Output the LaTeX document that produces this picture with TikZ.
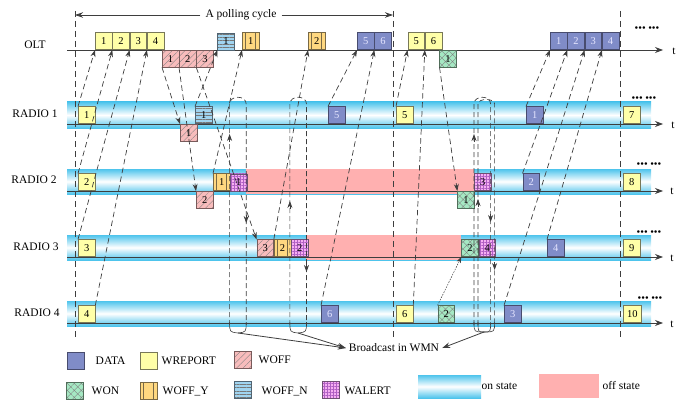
\documentclass[tikz,border=0pt]{standalone}
\usepackage{fontspec}
\setmainfont{Liberation Serif}
\usetikzlibrary{arrows.meta,patterns.meta,calc}

\definecolor{ink}{RGB}{62,62,62}
\definecolor{bandcyan}{RGB}{78,196,236}
\definecolor{offpink}{RGB}{255,176,176}
\definecolor{datafill}{RGB}{128,140,200}
\definecolor{datadraw}{RGB}{72,76,110}
\definecolor{repfill}{RGB}{255,255,168}
\definecolor{repdraw}{RGB}{120,120,88}
\definecolor{wofffill}{RGB}{248,188,188}
\definecolor{woffdraw}{RGB}{120,90,90}
\definecolor{wonfill}{RGB}{165,232,195}
\definecolor{wondraw}{RGB}{80,110,90}
\definecolor{woffyfill}{RGB}{255,216,128}
\definecolor{woffydraw}{RGB}{120,105,70}
\definecolor{woffnfill}{RGB}{160,212,240}
\definecolor{woffndraw}{RGB}{80,100,115}
\definecolor{walertfill}{RGB}{246,175,242}
\definecolor{walertgrid}{RGB}{175,95,195}
\definecolor{walertdraw}{RGB}{110,80,115}

% vertical dashed tracks of one broadcast: up one side, cap, down the other
\newcommand{\pinloop}[3]{%
  \draw[hair] (#1,325) -- (#1,104) .. controls (#1,#3) and (#2,#3) .. (#2,104) -- (#2,325);}
% the two curls that join a broadcast's tracks at the bottom
\newcommand{\pinfoot}[3]{%
  \draw[foot] (#1,322) .. controls (#1,332) .. (#3);
  \draw[foot] (#2,322) .. controls (#2,332) .. (#3);}
% an arrow head sitting on a vertical track
\newcommand{\midtip}[3]{\draw[tipseg] (#1,#2) -- (#1,#3);}

\begin{document}
\begin{tikzpicture}[x=1pt,y=-1pt,
  lbl/.style={inner sep=0pt, font=\fontsize{11.5}{13}\selectfont},
  pkt/.style={line width=0.6pt, minimum width=16.7pt, minimum height=17pt,
    inner sep=0pt, font=\fontsize{10.5}{12}\selectfont},
  data/.style={pkt, draw=datadraw, fill=datafill, text=white!90!blue},
  wrep/.style={pkt, draw=repdraw, fill=repfill},
  woff/.style={pkt, draw=woffdraw, preaction={fill=wofffill},
    pattern={Lines[angle=45,distance=4.5pt,line width=0.35pt]}, pattern color=gray},
  won/.style={pkt, draw=wondraw, preaction={fill=wonfill},
    pattern={Hatch[angle=45,distance=5pt,line width=0.35pt]}, pattern color=gray},
  woffn/.style={pkt, draw=woffndraw, preaction={fill=woffnfill},
    pattern={Lines[angle=0,distance=3.4pt,line width=0.35pt]}, pattern color=ink!70},
  walert/.style={pkt, draw=walertdraw, preaction={fill=walertfill},
    pattern={Hatch[angle=0,distance=3pt,line width=0.3pt]}, pattern color=walertgrid},
  woffy/.style={pkt, draw=woffydraw, fill=woffyfill, path picture={
    \draw[woffydraw, line width=0.5pt]
      ($(path picture bounding box.south west)!0.2!(path picture bounding box.south east)$) --
      ($(path picture bounding box.north west)!0.2!(path picture bounding box.north east)$)
      ($(path picture bounding box.south west)!0.8!(path picture bounding box.south east)$) --
      ($(path picture bounding box.north west)!0.8!(path picture bounding box.north east)$);}},
  up/.style={anchor=south west},
  dn/.style={anchor=north west},
  axisline/.style={ink, line width=0.8pt, -{Stealth[length=8pt,width=6pt]}},
  cyc/.style={ink, line width=0.7pt, dash pattern=on 6pt off 4pt},
  span/.style={ink, line width=0.8pt, -{Stealth[length=8pt,width=5.5pt]}},
  conn/.style={ink, line width=0.7pt, dash pattern=on 5.5pt off 3.5pt, -{Stealth[length=7pt,width=5pt]}},
  dotconn/.style={ink, line width=0.5pt, dash pattern=on 1.6pt off 1.2pt, -{Stealth[length=6pt,width=4.5pt]}},
  hair/.style={ink, line width=0.65pt, dash pattern=on 5pt off 3pt},
  foot/.style={ink, line width=0.6pt},
  tipseg/.style={ink, line width=0.7pt, -{Stealth[length=7pt,width=5pt]}},
  bcast/.style={ink, line width=0.8pt, -{Stealth[length=8pt,width=5.5pt]}},
  dotsnode/.style={inner sep=0pt, font=\fontsize{10.5}{11}\selectfont}
]
\useasboundingbox (0,0) rectangle (684,401);

% ---------- radio bands and their off intervals ----------
\foreach \yt/\yb in {102/128,169/194,235/260,301/326}
  \shade[top color=bandcyan, bottom color=bandcyan, middle color=white] (67,\yt) rectangle (651,\yb);
\fill[offpink] (246,169) rectangle (474,194);
\fill[offpink] (306,235) rectangle (461,260);

% ---------- time axes ----------
\foreach \y in {50,124,191,257,323}
  \draw[axisline] (67,\y) -- (663,\y);
\node[lbl] (t0) at (674,51) {t};
\node[lbl] (t1) at (673,125) {t};
\node[lbl] (t2) at (672,191) {t};
\node[lbl] (t3) at (672,258) {t};
\node[lbl] (t4) at (672,324) {t};

\node[lbl] (lolt) at (35,45) {OLT};
\node[lbl] (lr1) at (35,114) {RADIO 1};
\node[lbl] (lr2) at (34,180) {RADIO 2};
\node[lbl] (lr3) at (36,247) {RADIO 3};
\node[lbl] (lr4) at (37,313) {RADIO 4};

% ---------- polling cycle ----------
\draw[cyc] (75,11) -- (75,337);
\draw[cyc] (393,11) -- (393,337);
\draw[cyc] (620,11) -- (620,337);
\node[lbl, inner xsep=5pt] (pc) at (241,15) {A polling cycle};
\coordinate (pcl) at (75,15);
\coordinate (pcr) at (393,15);
\draw[span] (pc.west) -- (pcl);
\draw[span] (pc.east) -- (pcr);

\node[dotsnode] (d0) at (647,29) {\textbullet\textbullet\textbullet\ \textbullet\textbullet\textbullet};
\node[dotsnode] (d1) at (644,99) {\textbullet\textbullet\textbullet\ \textbullet\textbullet\textbullet};
\node[dotsnode] (d2) at (649,165) {\textbullet\textbullet\textbullet\ \textbullet\textbullet\textbullet};
\node[dotsnode] (d3) at (649,233) {\textbullet\textbullet\textbullet\ \textbullet\textbullet\textbullet};
\node[dotsnode] (d4) at (650,299) {\textbullet\textbullet\textbullet\ \textbullet\textbullet\textbullet};

% ---------- OLT ----------
\node[wrep, up] (o1) at (95,50) {1};
\node[wrep, up] (o2) at (o1.south east) {2};
\node[wrep, up] (o3) at (o2.south east) {3};
\node[wrep, up] (o4) at (o3.south east) {4};
\node[woff, dn] (ow1) at (162,50) {1};
\node[woff, dn] (ow2) at (ow1.north east) {2};
\node[woff, dn] (ow3) at (ow2.north east) {3};
\node[woffn, up] (on1) at (217.5,50) {1};
\node[woffy, up] (oy1) at (242,50) {1};
\node[woffy, up] (oy2) at (308,50) {2};
\node[data, up] (od5) at (357,50) {5};
\node[data, up] (od6) at (od5.south east) {6};
\node[wrep, up] (or5) at (407.5,50) {5};
\node[wrep, up] (or6) at (or5.south east) {6};
\node[won, dn] (oon1) at (439.5,50) {1};
\node[data, up] (od1) at (550,50) {1};
\node[data, up] (od2) at (od1.south east) {2};
\node[data, up] (od3) at (od2.south east) {3};
\node[data, up] (od4) at (od3.south east) {4};

% ---------- RADIO 1 ----------
\node[wrep, up] (r1y) at (78,124) {1};
\node[woff, dn] (r1w) at (180,124) {1};
\node[woffn, up] (r1n) at (195,124) {1};
\node[data, up] (r1d5) at (328,124) {5};
\node[wrep, up] (r1y5) at (396,124) {5};
\node[data, up] (r1d1) at (526,124) {1};
\node[wrep, up] (r1y7) at (623,124) {7};

% ---------- RADIO 2 ----------
\node[wrep, up] (r2y) at (78,191) {2};
\node[woff, dn] (r2w) at (196,191) {2};
\node[woffy, up] (r2fy) at (213,191) {1};
\node[walert, up] (r2a1) at (r2fy.south east) {1};
\node[won, dn] (r2on) at (457.3,191) {1};
\node[walert, up] (r2a3) at (474,191) {3};
\node[data, up] (r2d2) at (522.5,191) {2};
\node[wrep, up] (r2y8) at (623,191) {8};

% ---------- RADIO 3 ----------
\node[wrep, up] (r3y) at (78,257) {3};
\node[woff, up] (r3w) at (256.5,257) {3};
\node[woffy, up] (r3fy) at (r3w.south east) {2};
\node[walert, up] (r3a2) at (r3fy.south east) {2};
\node[won, up] (r3on) at (461.3,257) {2};
\node[walert, up] (r3a4) at (r3on.south east) {4};
\node[data, up] (r3d4) at (547,257) {4};
\node[wrep, up] (r3y9) at (623,257) {9};

% ---------- RADIO 4 ----------
\node[wrep, up] (r4y) at (78,323) {4};
\node[data, up] (r4d6) at (321,323) {6};
\node[wrep, up] (r4y6) at (396,323) {6};
\node[won, up] (r4on) at (437.5,323) {2};
\node[data, up] (r4d3) at (504,323) {3};
\node[wrep, up, minimum width=18pt] (r4y10) at (623,323) {10};

% ---------- reports and data sent up to the OLT ----------
\draw[conn] (r1y.north west) -- (o1.south west);
\draw[conn] (r2y.north west) -- (o2.south west);
\draw[conn] (r3y.north west) -- (o3.south west);
\draw[conn] (r4y.north east) -- (o4.south west);
\draw[conn] (r1n.north west) -- (on1.south west);
\draw[conn] (r2fy.north west) -- (oy1.south west);
\draw[conn] (r3fy.north west) -- (oy2.south west);
\draw[conn] (r1d5.north west) -- (od5.south west);
\draw[conn] (r4d6.north west) -- (od6.south west);
\draw[conn] (r1y5.north west) -- (or5.south west);
\draw[conn] (r4y6.north east) -- (or6.south west);
\draw[conn] (r1d1.north west) -- (od1.south west);
\draw[conn] (r2d2.north west) -- (od2.south west);
\draw[conn] (r4d3.north west) -- (od3.south west);
\draw[conn] (r3d4.north west) -- (od4.south west);

% ---------- commands sent down from the OLT ----------
\draw[conn] (ow1.south west) -- (r1w.north west);
\draw[conn] (ow2.south west) -- (r2w.north west);
\draw[conn] (ow3.south west) -- (r3w.north west);
\draw[conn] (oon1.south west) -- (r2on.north west);
\draw[dotconn] (r4on.north west) -- (r3on.south west);

% ---------- WALERT broadcasts in the mesh ----------
\pinloop{229.6}{246.2}{95}
\pinloop{289.9}{306.5}{95}
\pinloop{474}{490.6}{95}
\pinloop{478}{494.6}{98}
\coordinate (fA) at (238,333);
\coordinate (fB) at (298,333);
\coordinate (fC) at (484,332);
\pinfoot{229.6}{246.2}{fA}
\pinfoot{289.9}{306.5}{fB}
\pinfoot{474}{490.6}{fC}
\pinfoot{478}{494.6}{fC}
\midtip{229.6}{142}{134}
\midtip{246.2}{215}{223}
\midtip{289.9}{209}{201}
\midtip{306.5}{264}{272}
\midtip{474}{142}{134}
\midtip{478}{207}{199}
\midtip{490.6}{214}{222}
\midtip{494.6}{262}{270}

\node[lbl, inner xsep=3pt] (bw) at (394,348) {Broadcast in WMN};
\draw[bcast] (fA) -- (bw.west);
\draw[bcast] (fB) -- (bw.west);
\draw[bcast] (fC) -- (bw.east);

% ---------- legend ----------
\node[data] (kdata) at (75.5,360.5) {};
\node[lbl, anchor=west] (tdata) at (95.5,361) {DATA};
\node[wrep] (krep) at (148.5,360.5) {};
\node[lbl, anchor=west] (trep) at (161.5,361) {WREPORT};
\node[woff] (kwoff) at (243,359.5) {};
\node[lbl, anchor=west] (twoff) at (258.5,360) {WOFF};
\node[won] (kwon) at (74.5,390.5) {};
\node[lbl, anchor=west] (twon) at (91.5,391) {WON};
\node[woffy] (kwoffy) at (148.5,390.5) {};
\node[lbl, anchor=west] (twoffy) at (162.5,391) {WOFF\_Y};
\node[woffn] (kwoffn) at (243,390) {};
\node[lbl, anchor=west] (twoffn) at (261.5,391) {WOFF\_N};
\node[walert] (kwalert) at (330.5,390) {};
\node[lbl, anchor=west] (twalert) at (344.5,391) {WALERT};
\shade[top color=bandcyan, bottom color=bandcyan, middle color=white] (418,375) rectangle (481,398);
\node[lbl, anchor=west] (ton) at (481.5,386) {on state};
\fill[offpink] (539,374) rectangle (599,398);
\node[lbl, anchor=west] (toff) at (602.5,386) {off state};
\end{tikzpicture}
\end{document}
